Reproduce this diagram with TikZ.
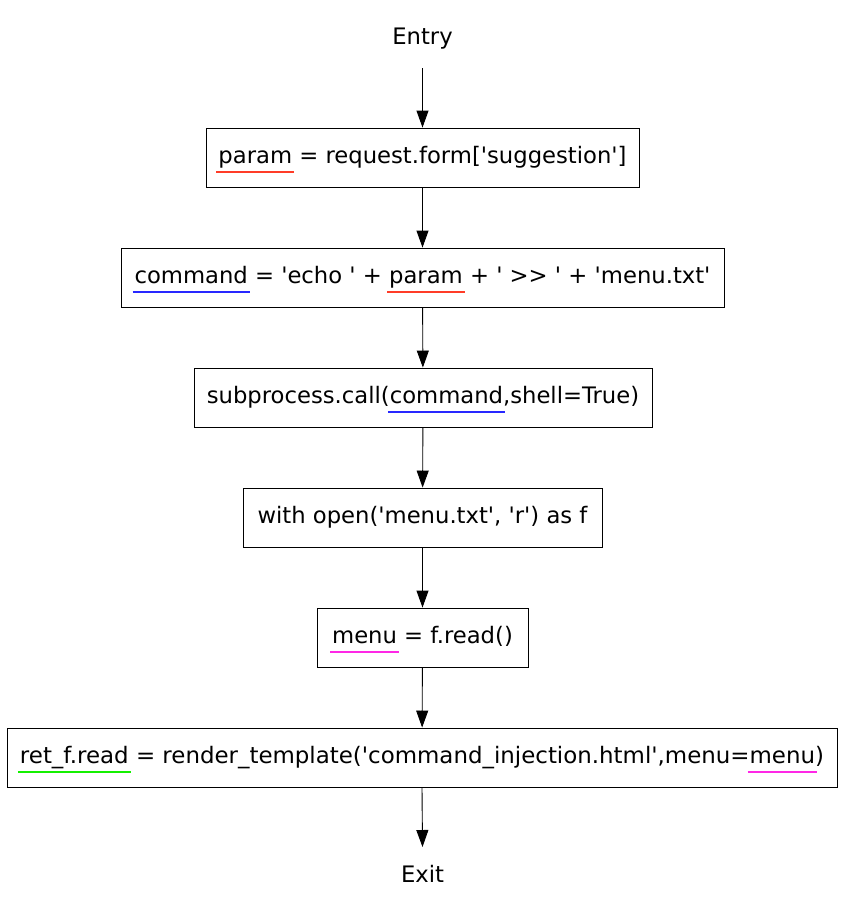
\documentclass[tikz,border=0pt]{standalone}
\usepackage{fontspec}
\setmainfont{DejaVu Sans}[Ligatures=TeXOff]
\usetikzlibrary{arrows.meta}
\definecolor{ulred}{RGB}{255,60,40}
\definecolor{ulblue}{RGB}{40,40,255}
\definecolor{ulmag}{RGB}{255,40,230}
\definecolor{ulgreen}{RGB}{20,240,0}
\newsavebox\ulbox
\newcommand\ulc[2]{\sbox\ulbox{#2}\leavevmode\rlap{\hspace{-2pt}\textcolor{#1}{\rule[-10.2pt]{\dimexpr\wd\ulbox+4pt\relax}{1.8pt}}}\usebox\ulbox}
\tikzset{
  stmt/.style={draw, line width=0.9pt, minimum height=59pt, inner sep=0pt,
    font=\fontsize{22.7}{24}\selectfont, text height=16pt, text depth=5pt, anchor=center},
  term/.style={inner sep=0pt, font=\fontsize{22.7}{24}\selectfont, text height=16pt, text depth=5pt},
  flow/.style={line width=0.9pt, -{Triangle[length=17pt,width=12pt]}}
}
\begin{document}
\begin{tikzpicture}[x=1pt,y=-1pt]
\useasboundingbox (0,0) rectangle (844,911);
\node[term] (entry) at (422.5,39) {Entry};
\node[stmt, minimum width=433pt] (s1) at (422.5,157.5) {\ulc{ulred}{param} = request.form['suggestion']};
\node[stmt, minimum width=603pt] (s2) at (422.5,277.5) {\ulc{ulblue}{command} = 'echo ' + \ulc{ulred}{param} + ' >> ' + 'menu.txt'};
\node[stmt, minimum width=458pt] (s3) at (423,397.5) {subprocess.call(\ulc{ulblue}{command},shell=True)};
\node[stmt, minimum width=359pt] (s4) at (422.5,517.5) {with open('menu.txt', 'r') as f};
\node[stmt, minimum width=211pt] (s5) at (422.5,637.5) {\ulc{ulmag}{menu} = f.read()};
\node[stmt, minimum width=830pt] (s6) at (422,757.5) {\resizebox{804pt}{\height}{\ulc{ulgreen}{ret\_f.read} = render\_template('command\_injection.html',menu=\ulc{ulmag}{menu})}};
\node[term] (exit) at (422.5,877) {Exit};
\coordinate (e0) at (422.5,68);
\coordinate (x0) at (422.5,847);
\draw[flow] (e0) -- (s1.north);
\draw[flow] (s1) -- (s2);
\draw[flow] (s2) -- (s3);
\draw[flow] (s3) -- (s4);
\draw[flow] (s4) -- (s5);
\draw[flow] (s5) -- (s6);
\draw[flow] (s6.south) -- (x0);
\end{tikzpicture}
\end{document}
